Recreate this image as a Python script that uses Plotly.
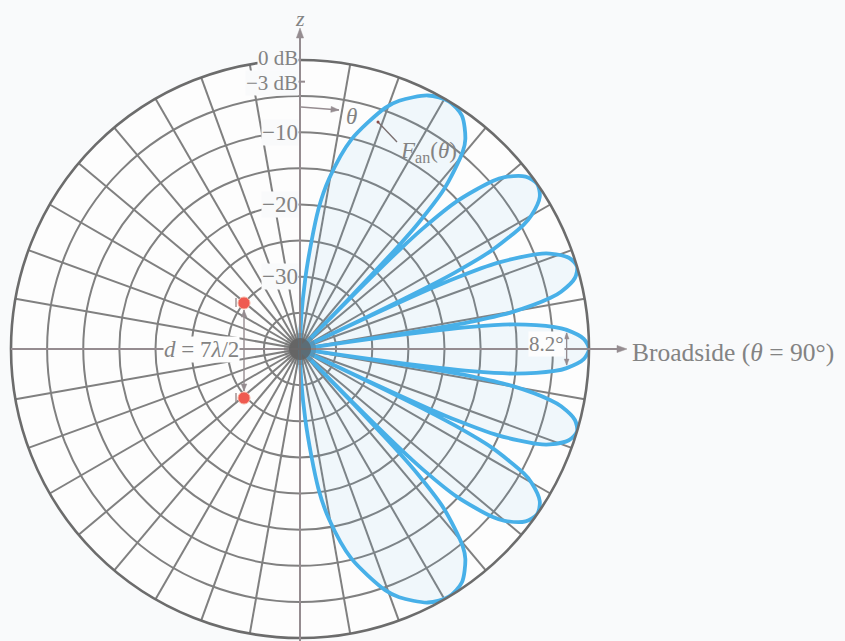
import math
import plotly.graph_objects as go

# Normalized array factor of the two-element array (d = 7λ/2), in dB,
# versus polar angle θ measured from the z axis (degrees).
theta_deg = [
    0.00, 4.33, 7.51, 9.69, 13.73, 19.46, 21.79, 26.77, 31.00, 34.77, 38.21, 39.52, 42.02, 43.23, 43.71, 44.18,
    44.42, 44.65, 45.11, 45.57, 46.71, 48.92, 50.00, 52.62, 55.15, 57.61, 60.00, 60.94, 62.80, 63.72, 64.08, 64.44,
    64.62, 64.80, 65.17, 65.53, 66.42, 68.20, 69.08, 71.25, 73.40, 75.52, 77.63, 78.46, 80.13, 80.96, 81.29, 81.62,
    81.79, 81.95, 82.28, 82.61, 83.44, 85.08, 85.90, 87.95, 90.00, 92.05, 94.10, 94.92, 96.56, 97.39, 97.72, 98.05,
    98.21, 98.38, 98.71, 99.04, 99.87, 101.54, 102.37, 104.48, 106.60, 108.75, 110.92, 111.80, 113.58, 114.47, 114.83, 115.20,
    115.38, 115.56, 115.92, 116.28, 117.20, 119.06, 120.00, 122.39, 124.85, 127.38, 130.00, 131.08, 133.29, 134.43, 134.89, 135.35,
    135.58, 135.82, 136.29, 136.77, 137.98, 140.48, 141.79, 145.23, 149.00, 153.23, 158.21, 160.54, 166.27, 170.31, 172.49, 175.67,
    180.00,
]
level_db = [
    -40.0, -30.1, -20.5, -16.1, -10.2, -4.6, -3.0, -0.7, 0.0, -0.7, -3.0, -4.6, -10.2, -16.1, -20.5, -30.1,
    -40.0, -30.1, -20.5, -16.1, -10.2, -4.6, -3.0, -0.7, 0.0, -0.7, -3.0, -4.6, -10.2, -16.1, -20.5, -30.1,
    -40.0, -30.1, -20.5, -16.1, -10.2, -4.6, -3.0, -0.7, 0.0, -0.7, -3.0, -4.6, -10.2, -16.1, -20.5, -30.1,
    -40.0, -30.1, -20.5, -16.1, -10.2, -4.6, -3.0, -0.7, 0.0, -0.7, -3.0, -4.6, -10.2, -16.1, -20.5, -30.1,
    -40.0, -30.1, -20.5, -16.1, -10.2, -4.6, -3.0, -0.7, 0.0, -0.7, -3.0, -4.6, -10.2, -16.1, -20.5, -30.1,
    -40.0, -30.1, -20.5, -16.1, -10.2, -4.6, -3.0, -0.7, 0.0, -0.7, -3.0, -4.6, -10.2, -16.1, -20.5, -30.1,
    -40.0, -30.1, -20.5, -16.1, -10.2, -4.6, -3.0, -0.7, 0.0, -0.7, -3.0, -4.6, -10.2, -16.1, -20.5, -30.1,
    -40.0,
]

# Radial scale (dB) and labelled levels on the z axis
r_min, r_max = -40, 0
ring_levels = [-35, -30, -25, -20, -15, -10, -5]
label_levels = [0, -3, -10, -20, -30]
label_texts = ["0 dB", "\u22123 dB", "\u221210", "\u221220", "\u221230"]
label_sizes = [21, 21, 23, 23, 23]
label_nudge = [-2.0, 1.5, 0, 0, 0]
spoke_step = 10
beamwidth_deg = 8.2
half_power_db = -3

W, H = 845, 641
CX, CY, R = 300, 349, 289  # polar centre and outer radius in pixels

GRID = "#808080"
AXIS = "#958c90"
TEXT = "#838383"
BLUE = "#48b0e8"
BG = "#f9fafb"
PLOTBG = "#fdfdfd"
SERIF = "Liberation Serif, Times New Roman, serif"


def to_px(level, ang_deg):
    r = (level - r_min) / (r_max - r_min) * R
    a = math.radians(ang_deg)
    return CX + r * math.sin(a), CY - r * math.cos(a)


def px(x, y):
    return x / W, 1 - y / H


fig = go.Figure()
fig.add_trace(go.Scatterpolar(
    r=level_db, theta=theta_deg, mode="lines",
    line=dict(color=BLUE, width=3.8, shape="spline", smoothing=0.8),
    fill="toself", fillcolor="rgba(90,175,230,0.08)",
    hoverinfo="skip", showlegend=False,
))

fig.update_layout(
    width=W, height=H,
    margin=dict(l=0, r=0, t=0, b=0),
    paper_bgcolor=BG,
    showlegend=False,
    polar=dict(
        domain=dict(x=[(CX - R) / W, (CX + R) / W], y=[(H - CY - R) / H, (H - CY + R) / H]),
        bgcolor=PLOTBG,
        radialaxis=dict(range=[r_min, r_max], tickvals=ring_levels, showticklabels=False,
                        ticks="", showline=False, gridcolor=GRID, gridwidth=1.5),
        angularaxis=dict(rotation=90, direction="clockwise",
                         tickvals=list(range(0, 360, spoke_step)), showticklabels=False,
                         ticks="", showline=True, linecolor="#6c6c6c", linewidth=2.6,
                         gridcolor=GRID, gridwidth=1.5),
    ),
)

shapes = []
annotations = []


def line(x0, y0, x1, y1, color=AXIS, width=2):
    a, b = px(x0, y0)
    c, d = px(x1, y1)
    shapes.append(dict(type="line", xref="paper", yref="paper", x0=a, y0=b, x1=c, y1=d,
                       line=dict(color=color, width=width), layer="above"))


def head(xh, yh, xt, yt, color, length, half):
    """Filled triangular arrow head pointing from (xt, yt) towards (xh, yh)."""
    dx, dy = xh - xt, yh - yt
    n = math.hypot(dx, dy)
    ux, uy = dx / n, dy / n
    bx, by = xh - ux * length, yh - uy * length
    pts = [(xh, yh), (bx - uy * half, by + ux * half), (bx + uy * half, by - ux * half)]
    path = "M " + " L ".join(f"{x / W:.5f},{1 - y / H:.5f}" for x, y in pts) + " Z"
    shapes.append(dict(type="path", xref="paper", yref="paper", path=path,
                       fillcolor=color, line=dict(color=color, width=0.5), layer="above"))


def arrow(x_head, y_head, x_tail, y_tail, color=AXIS, width=1.6, both=False, length=8, half=3.2):
    line(x_tail, y_tail, x_head, y_head, color=color, width=width)
    head(x_head, y_head, x_tail, y_tail, color, length, half)
    if both:
        head(x_tail, y_tail, x_head, y_head, color, length, half)


def text(x, y, s, size=19, anchor="center", color=TEXT, bg=None, italic=False):
    a, b = px(x, y)
    annotations.append(dict(x=a, y=b, xref="paper", yref="paper", text=s, showarrow=False,
                            xanchor=anchor, yanchor="middle",
                            font=dict(family=SERIF, size=size, color=color,
                                      style="italic" if italic else "normal"),
                            bgcolor=bg, borderpad=0))


# z axis and broadside axis with arrow heads
line(CX, H + 5, CX, 36)
head(CX, 28, CX, 40, AXIS, 10, 3.6)
line(CX - R, CY, 618, CY)
head(627, CY, 612, CY, AXIS, 10, 3.6)
text(CX, 18, "z", size=22, italic=True)
text(631, 352, "Broadside (<i>\u03b8</i> = 90\u00b0)", size=25.5, anchor="left")

# dB labels along the z axis
for lv, s, fs, dy in zip(label_levels, label_texts, label_sizes, label_nudge):
    _, y = to_px(lv, 0)
    text(CX - 1, y + dy, s, size=fs, anchor="right", bg=BG)
_, y3 = to_px(-3, 0)
line(CX - 6, y3, CX + 5, y3, width=2)

# θ direction arrow and pattern label
arrow(339, 110, 301, 107, width=1.4, length=8, half=3)
text(351, 117, "\u03b8", size=23, italic=True)
line(378, 122, 397, 142, color="#7a6f70", width=1.4)
shapes.append(dict(type="circle", xref="paper", yref="paper",
                   x0=376.5 / W, x1=379.5 / W, y0=1 - 123.5 / H, y1=1 - 120.5 / H,
                   fillcolor="#8a4a48", line=dict(width=0), layer="above"))
text(428, 152, "<i>F</i><sub>an</sub>(<i>\u03b8</i>)", size=23)

# half-power beamwidth marker on the broadside lobe
text(546, 344, "8.2\u00b0", size=21, bg=PLOTBG)
xb, yb_top = to_px(half_power_db, 90 - beamwidth_deg / 2)
_, yb_bot = to_px(half_power_db, 90 + beamwidth_deg / 2)
arrow(xb, yb_top + 3, xb, yb_bot - 3, width=1.3, both=True, length=6, half=2.4)

# element spacing with the two array elements
text(201, 349, "<i>d</i> = 7<i>\u03bb</i>/2", size=23, bg=PLOTBG)
arrow(244, 310, 244, 391, width=1.4, both=True, length=7, half=2.8)
for ey in (303, 398):
    line(236, ey - 5, 236, ey + 4, color="#9a8a8a", width=1.4)
    shapes.append(dict(type="circle", xref="paper", yref="paper",
                       x0=(244 - 6) / W, x1=(244 + 6) / W, y0=1 - (ey + 6) / H, y1=1 - (ey - 6) / H,
                       fillcolor="#ef5a50", line=dict(color="#f7b0a0", width=1), layer="above"))

# soft dark hub where the spokes converge
for rad, col in ((16, "rgba(110,110,110,0.35)"), (11, "rgba(95,95,95,0.75)")):
    shapes.append(dict(type="circle", xref="paper", yref="paper",
                       x0=(CX - rad) / W, x1=(CX + rad) / W, y0=1 - (CY + rad) / H, y1=1 - (CY - rad) / H,
                       fillcolor=col, line=dict(width=0), layer="above"))

fig.update_layout(shapes=shapes, annotations=annotations)
fig.write_html("out.html")
